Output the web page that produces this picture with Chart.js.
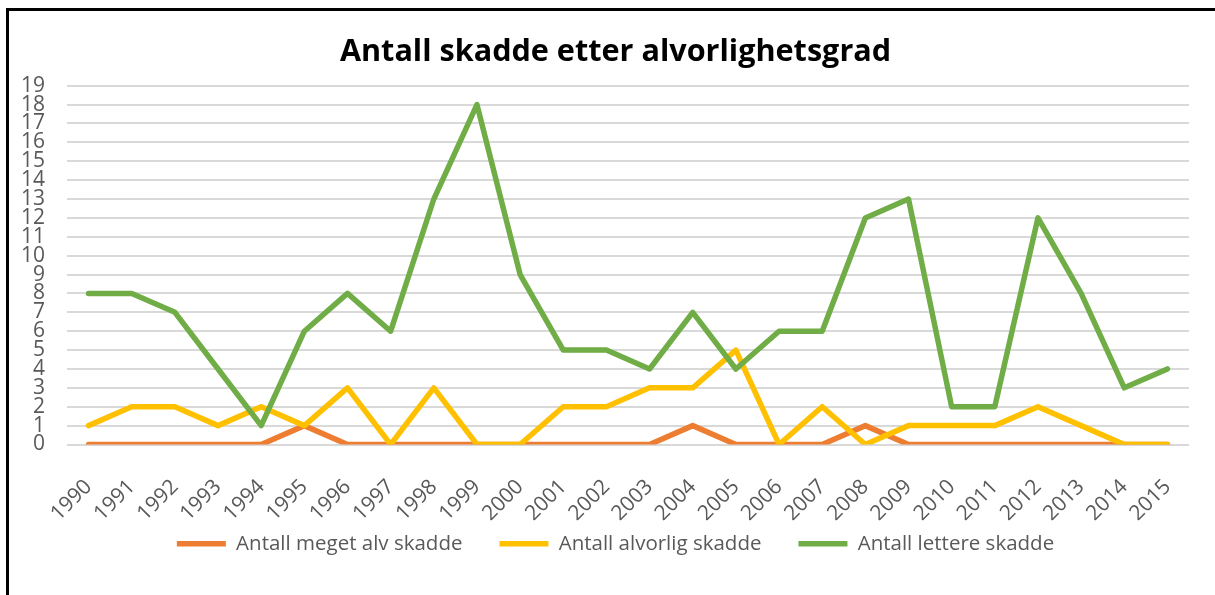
<!DOCTYPE html>
<html>
<head>
<meta charset="utf-8">
<script src="https://cdn.jsdelivr.net/npm/chart.js@4.4.0/dist/chart.umd.min.js"></script>
<style>
  html, body { margin: 0; padding: 0; background: #fff; overflow: hidden; }
  #ramme {
    position: absolute; left: 6px; top: 8px;
    width: 1207px; height: 600px;
    border: 3px solid #000; background: #fff;
  }
</style>
</head>
<body>
<div id="ramme"><canvas id="grafico" width="1207" height="590"></canvas></div>
<script>
const aar = ['1990', '1991', '1992', '1993', '1994', '1995', '1996', '1997', '1998', '1999',
             '2000', '2001', '2002', '2003', '2004', '2005', '2006', '2007', '2008', '2009',
             '2010', '2011', '2012', '2013', '2014', '2015'];
const megetAlvSkadde = [0, 0, 0, 0, 0, 1, 0, 0, 0, 0, 0, 0, 0, 0, 1, 0, 0, 0, 1, 0, 0, 0, 0, 0, 0, 0];
const alvorligSkadde = [1, 2, 2, 1, 2, 1, 3, 0, 3, 0, 0, 2, 2, 3, 3, 5, 0, 2, 0, 1, 1, 1, 2, 1, 0, 0];
const lettereSkadde  = [8, 8, 7, 4, 1, 6, 8, 6, 13, 18, 9, 5, 5, 4, 7, 4, 6, 6, 12, 13, 2, 2, 12, 8, 3, 4];

const tittel = 'Antall skadde etter alvorlighetsgrad';
const serieNavn = ['Antall meget alv skadde', 'Antall alvorlig skadde', 'Antall lettere skadde'];
const farger = ['#ED7D31', '#FFC000', '#70AD47'];

Chart.defaults.font.family = "'Open Sans', sans-serif";
Chart.defaults.color = '#595959';

function lagSerie(navn, data, farge, rekkefolge) {
    return {
        label: navn,
        data: data,
        borderColor: farge,
        backgroundColor: farge,
        borderWidth: 5.5,
        borderCapStyle: 'round',
        borderJoinStyle: 'round',
        pointRadius: 0,
        pointHoverRadius: 0,
        tension: 0,
        fill: false,
        order: rekkefolge
    };
}

// legenden ligger litt tettere inntil årstallene enn Chart.js gir plass til
const flyttLegende = {
    id: 'flyttLegende',
    afterLayout(chart) {
        chart.legend.top -= 24;
        chart.legend.bottom -= 24;
    }
};

new Chart(document.getElementById('grafico'), {
    type: 'line',
    data: {
        labels: aar,
        datasets: [
            lagSerie(serieNavn[0], megetAlvSkadde, farger[0], 3),
            lagSerie(serieNavn[1], alvorligSkadde, farger[1], 2),
            lagSerie(serieNavn[2], lettereSkadde, farger[2], 1)
        ]
    },
    plugins: [flyttLegende],
    options: {
        responsive: false,
        animation: false,
        layout: { padding: { left: 6, right: 0, top: 0, bottom: 13 } },
        scales: {
            x: {
                offset: true,
                grid: { display: false },
                border: { display: false },
                ticks: { minRotation: 45, maxRotation: 45, autoSkip: false, padding: 22, font: { size: 21 }, color: '#595959' },
                afterFit: s => { s.height = 76; }
            },
            y: {
                min: 0,
                max: 19,
                ticks: { stepSize: 1, autoSkip: false, padding: 22, font: { size: 21 }, color: '#595959' },
                grid: { color: '#D9D9D9', lineWidth: 2, drawTicks: false },
                border: { display: false },
                afterFit: s => { s.width = 52; }
            },
            hoyre: {
                axis: 'y',
                position: 'right',
                min: 0,
                max: 19,
                grid: { display: false, drawTicks: false },
                border: { display: false },
                ticks: { display: false },
                afterFit: s => { s.width = 27; }
            }
        },
        plugins: {
            title: {
                display: true,
                text: tittel,
                color: '#000',
                font: { size: 30.6, weight: 'bold' },
                padding: { top: 23, bottom: 15 }
            },
            legend: {
                position: 'bottom',
                labels: {
                    usePointStyle: true,
                    pointStyle: 'line',
                    pointStyleWidth: 49,
                    padding: 37,
                    font: { size: 20.5 },
                    color: '#595959',
                    sort: (a, b) => a.datasetIndex - b.datasetIndex
                }
            },
            tooltip: { enabled: false }
        }
    }
});
</script>
</body>
</html>
